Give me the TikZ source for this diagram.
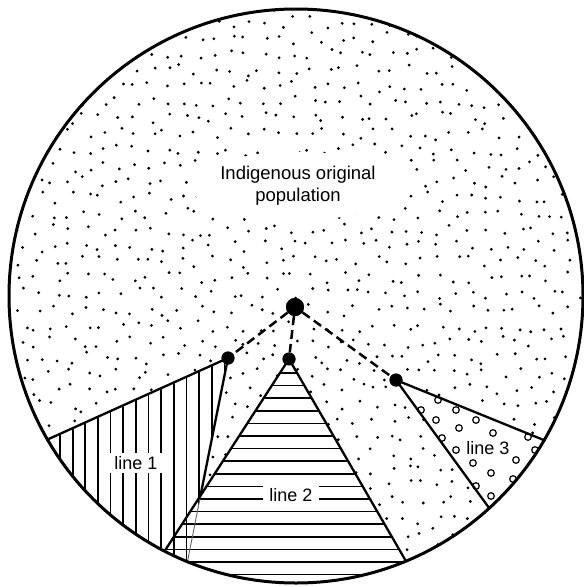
\documentclass[tikz,border=0pt]{standalone}
\usepackage{fontspec}
\setmainfont{Liberation Sans}
\begin{document}
\begin{tikzpicture}[x=1pt,y=-1pt,
  edge/.style={line width=2.3pt},
  hatch/.style={line width=1.7pt},
  dashline/.style={line width=2.5pt, dash pattern=on 9pt off 5pt},
  bigdot/.style={circle,fill=black,inner sep=0pt,minimum size=18pt},
  smalldot/.style={circle,fill=black,inner sep=0pt,minimum size=13pt},
  lbl/.style={font=\fontsize{18}{22}\selectfont, fill=white, inner xsep=6pt, inner ysep=3pt},
  ring/.style={line width=1.2pt}]
\useasboundingbox (0,0) rectangle (584,587);
\coordinate (O) at (296,296);
% stipple
\begin{scope}
  \clip (O) circle (287);
  \pgfmathsetseed{7}
  \foreach \i in {0,...,36}{\foreach \j in {0,...,36}{
    \fill ({6+\i*16+6*rand},{6+\j*16+6*rand}) circle (1.55);
  }}
\end{scope}
% clearing round the title
\fill[white] (298,186) ellipse (108 and 34);
\node[font=\fontsize{18.5}{22}\selectfont, align=center] (title) at (298,186) {Indigenous original\\population};
% dots
\node[bigdot] (c) at (295,307) {};
\node[smalldot] (d1) at (228,358) {};
\node[smalldot] (d2) at (289,359) {};
\node[smalldot] (d3) at (396,380) {};
% free ends beyond the circle
\coordinate (a1) at (-20,470);
\coordinate (b1) at (176,620);
\coordinate (x12) at (200.4,496);
\coordinate (a2) at (120,620);
\coordinate (b2) at (440,620);
\coordinate (a3) at (620,471);
\coordinate (b3) at (556,600);
\begin{scope}
  \clip (O) circle (287);
  \fill[white] (d1.center) -- (a1) -- (-20,620) -- (b1) -- cycle;
  \fill[white] (d2.center) -- (a2) -- (b2) -- cycle;
  \fill[white] (d3.center) -- (a3) -- (620,600) -- (b3) -- cycle;
  % line 1 hatch
  \begin{scope}
    \clip (d1.center) -- (a1) -- (-20,620) -- (b1) -- cycle;
    \foreach \k in {0,...,14} \draw[hatch] ({60+12.65*\k},340) -- ++(0,300);
  \end{scope}
  % line 2 hatch
  \begin{scope}
    \clip (d2.center) -- (a2) -- (b2) -- cycle;
    \foreach \k in {0,...,18} \draw[hatch] (100,{373+12.6*\k}) -- ++(400,0);
  \end{scope}
  % line 3 rings
  \foreach \p in {(421,410),(438,400),(456,410),(436,420),(476,420),(459,428),(493,433),(442,438),(456,450),(535,450),(473,463),(516,460),(491,473),(513,479),(476,486),(491,496),(528,437)}
    \draw[ring] \p circle (3.3);
  % edges
  \draw[edge] (d1.center) -- (a1);
  \draw[edge] (d1.center) -- (x12);
  \draw[line width=0.9pt, black!60] (x12) -- (b1);
  \draw[edge] (d2.center) -- (a2);
  \draw[edge] (d2.center) -- (b2);
  \draw[edge] (d3.center) -- (a3);
  \draw[edge] (d3.center) -- (b3);
\end{scope}
% labels
\node[lbl] (l1) at (136,463) {line 1};
\node[lbl, inner ysep=4pt] (l2) at (291,495) {line 2};
\node[lbl, fill=none] (l3) at (488,448) {line 3};
% dashed connectors
\draw[dashline] (c) -- (d1);
\draw[dashline] (c) -- (d2);
\draw[dashline] (c) -- (d3);
% redraw dots on top
\node[bigdot] at (c) {};
\node[smalldot] at (d1) {};
\node[smalldot] at (d2) {};
\node[smalldot] at (d3) {};
% outline
\draw[line width=3pt] (O) circle (287);
\end{tikzpicture}
\end{document}
